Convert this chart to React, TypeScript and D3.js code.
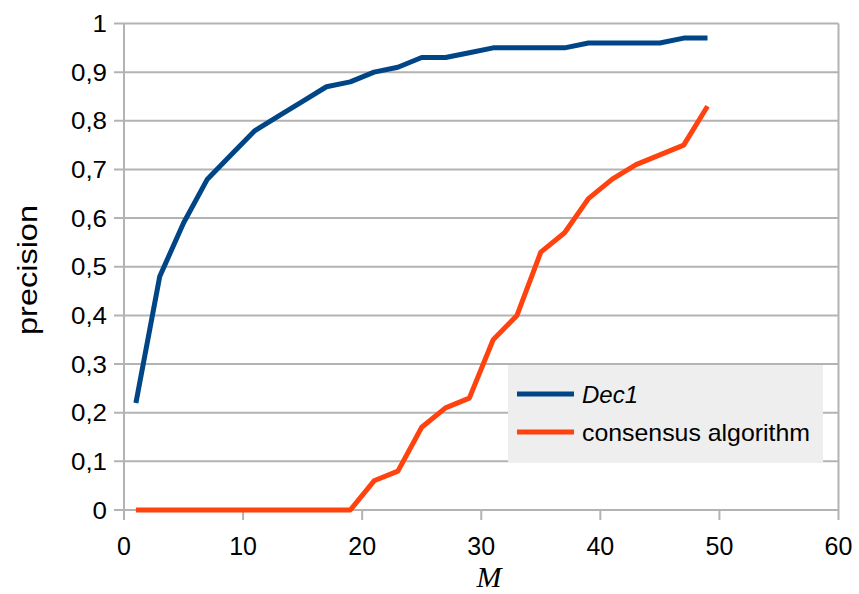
import React from "react";
import * as d3 from "d3";

const mValues = [1,3,5,7,9,11,13,15,17,19,21,23,25,27,29,31,33,35,37,39,41,43,45,47,49];
const dec1 = [0.22,0.48,0.59,0.68,0.73,0.78,0.81,0.84,0.87,0.88,0.90,0.91,0.93,0.93,0.94,0.95,0.95,0.95,0.95,0.96,0.96,0.96,0.96,0.97,0.97];
const consensus = [0,0,0,0,0,0,0,0,0,0,0.06,0.08,0.17,0.21,0.23,0.35,0.40,0.53,0.57,0.64,0.68,0.71,0.73,0.75,0.83];
const xTicks = [0,10,20,30,40,50,60];
const yTicks = [0,0.1,0.2,0.3,0.4,0.5,0.6,0.7,0.8,0.9,1];
const seriesNames = ["Dec1", "consensus algorithm"];
const colors = ["#004586", "#ff420e"];

export default function App() {
  const W = 859, H = 594;
  const x = d3.scaleLinear().domain([0, 60]).range([124, 838.5]);
  const y = d3.scaleLinear().domain([0, 1]).range([510, 23.5]);
  const line = d3.line<[number, number]>().x(d => x(d[0])).y(d => y(d[1]));
  const fmt = (v: number) => (v === 0 || v === 1 ? String(v) : v.toFixed(1).replace(".", ","));
  const grid = "#b3b3b3";
  const font = "'Liberation Sans', Arial, sans-serif";
  const legendLens = [56, 228];
  return (
    <svg width={W} height={H} style={{ position: "absolute", left: 0, top: 0 }} fontFamily={font}>
      <rect width={W} height={H} fill="#fff" />
      {yTicks.map(t => (
        <line key={"g" + t} x1={114} x2={x(60)} y1={y(t)} y2={y(t)} stroke={grid} strokeWidth={2} />
      ))}
      {xTicks.map(t => (
        <line key={"xt" + t} x1={x(t)} x2={x(t)} y1={t === 0 || t === 60 ? y(1) : y(0)} y2={520} stroke={grid} strokeWidth={2} />
      ))}
      {yTicks.map(t => (
        <text key={"yl" + t} x={107} y={y(t)} dy="0.36em" textAnchor="end" fontSize={24} fill="#000" transform={`translate(107,0) scale(1.08,1) translate(-107,0)`}>{fmt(t)}</text>
      ))}
      {xTicks.map(t => (
        <text key={"xl" + t} x={x(t)} y={555} textAnchor="middle" fontSize={25} fill="#000">{t}</text>
      ))}
      <text transform="translate(37,270) rotate(-90)" textAnchor="middle" fontSize={27} textLength={130} lengthAdjust="spacingAndGlyphs" fill="#000">precision</text>
      <text x={489} y={587} textAnchor="middle" fontSize={30} fontStyle="italic" fontFamily="'Liberation Serif', 'DejaVu Serif', serif" fill="#000">M</text>
      {[dec1, consensus].map((s, i) => (
        <path key={"s" + i} d={line(mValues.map((m, j) => [m, s[j]] as [number, number])) || ""} fill="none" stroke={colors[i]} strokeWidth={5} strokeLinejoin="round" />
      ))}
      <rect x={508} y={365} width={315} height={98} fill="#eeeeee" />
      {seriesNames.map((n, i) => (
        <g key={"lg" + i}>
          <line x1={517} x2={574} y1={394 + i * 38} y2={394 + i * 38} stroke={colors[i]} strokeWidth={5} />
          <text x={582} y={394 + i * 38} dy="0.36em" fontSize={24} textLength={legendLens[i]} lengthAdjust="spacingAndGlyphs" fontStyle={i === 0 ? "italic" : "normal"} fill="#000">{n}</text>
        </g>
      ))}
    </svg>
  );
}
